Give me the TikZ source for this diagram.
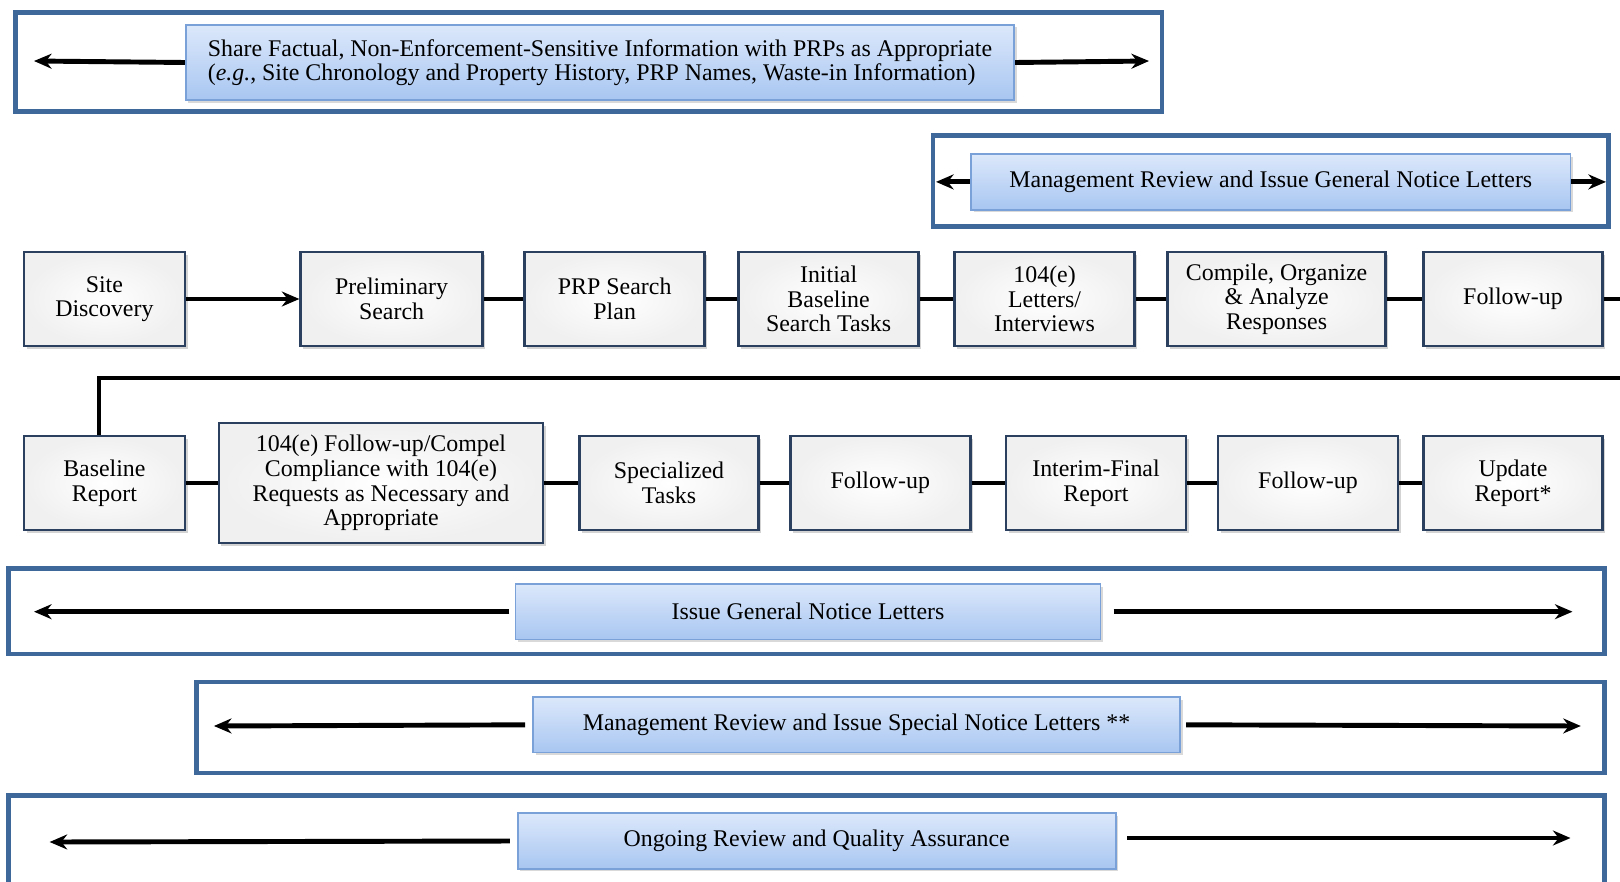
\documentclass[tikz,border=0pt]{standalone}
\usepackage{fontspec}
\setmainfont{Liberation Serif}
\usetikzlibrary{arrows.meta, positioning, shadows}

\definecolor{framecol}{HTML}{3E679A}
\definecolor{boxline}{HTML}{2B3F5E}
\definecolor{bandline}{HTML}{7BA2D8}
\definecolor{bandtop}{HTML}{DCE8FB}
\definecolor{bandbot}{HTML}{A8C6F1}

\begin{document}
\begin{tikzpicture}[x=0.02cm, y=-0.02cm, >={Stealth[length=10pt, width=8.5pt]}, font=\fontsize{13.6}{14}\selectfont]
  \tikzstyle{stepnode}=[draw=boxline, line width=1.4pt, inner color=white, outer color=black!6, align=center, minimum width=3.6cm, minimum height=1.88cm, inner sep=2pt, drop shadow={opacity=0.35, shadow xshift=1.5pt, shadow yshift=-1.5pt}]
  \tikzstyle{bandnode}=[draw=bandline, line width=1pt, top color=bandtop, bottom color=bandbot, align=center, minimum height=1.11cm, drop shadow={opacity=0.3, shadow xshift=1.5pt, shadow yshift=-1.5pt}]
  \tikzstyle{framebox}=[draw=framecol, line width=2.6pt]
  \tikzstyle{link}=[line width=2.8pt]

  \useasboundingbox (0,0) rectangle (1620,882);

  % outer frames
  \draw[framebox] (15.5,12.4) rectangle (1162,111.6);
  \draw[framebox] (933,135.3) rectangle (1608.7,226.3);
  \draw[framebox] (8.3,568.3) rectangle (1604.5,654);
  \draw[framebox] (196.3,682) rectangle (1604.5,772.8);
  \draw[framebox] (8.3,795.6) rectangle (1604.5,900);

  % bands
  \node[bandnode, align=left, minimum width=16.57cm, minimum height=1.51cm] (sh) at (600,62.5)
    {Share Factual, Non-Enforcement-Sensitive Information with PRPs as Appropriate\\
     (\textit{e.g.}, Site Chronology and Property History, PRP Names, Waste-in Information)};
  \node[bandnode, minimum width=11.99cm] (mg) at (1270.8,181.9) {Management Review and Issue General Notice Letters};
  \node[bandnode, minimum width=11.7cm] (gn) at (808,611.7) {Issue General Notice Letters};
  \node[bandnode, minimum width=12.94cm] (sn) at (856.5,724.8) {Management Review and Issue Special Notice Letters **};
  \node[bandnode, minimum width=11.96cm] (oq) at (816.7,841) {Ongoing Review and Quality Assurance};

  \coordinate (shL) at (34,61);
  \coordinate (shR) at (1149,61);
  \coordinate (mgL) at (936,181.9);
  \coordinate (mgR) at (1606,181.9);
  \coordinate (gnL) at (34,611.7);
  \coordinate (gnR) at (1572.5,611.7);
  \coordinate (snL) at (213.9,726);
  \coordinate (snR) at (1580.8,726);
  \coordinate (oqL) at (49.6,842);
  \coordinate (oqR) at (1570.5,838);

  \draw[link,->] (sh.west) -- (shL);
  \draw[link,->] (sh.east) -- (shR);
  \draw[link,->] (mg.west) -- (mgL);
  \draw[link,->] (mg.east) -- (mgR);
  \draw[link,->, shorten <=3pt] (gn.west) -- (gnL);
  \draw[link,->, shorten <=7pt] (gn.east) -- (gnR);
  \draw[link,->, shorten <=4pt] (sn.west) -- (snL);
  \draw[link,->, shorten <=3pt] (sn.east) -- (snR);
  \draw[link,->, shorten <=4pt] (oq.west) -- (oqL);
  \draw[link,->, shorten <=6pt] (oq.east |- oqR) -- (oqR);

  % first row
  \node[stepnode, minimum width=3.22cm] (sd) at (104.4,299) {Site\\Discovery};
  \node[stepnode, minimum width=3.64cm] (ps) at (391.6,299) {Preliminary\\Search};
  \node[stepnode] (pp) at (614.7,299) {PRP Search\\Plan};
  \node[stepnode] (ib) at (828.6,299) {Initial\\Baseline\\Search Tasks};
  \node[stepnode] (le) at (1044.6,299) {104(e)\\Letters/\\Interviews};
  \node[stepnode, minimum width=4.36cm] (co) at (1276.6,299) {Compile, Organize\\\& Analyze\\Responses};
  \node[stepnode, minimum width=3.58cm] (f1) at (1513,299) {Follow-up};

  % second row
  \node[stepnode, minimum width=3.22cm] (br) at (104.4,483) {Baseline\\Report};
  \node[stepnode, minimum width=6.49cm, minimum height=2.4cm] (fc) at (381,483)
    {104(e) Follow-up/Compel\\Compliance with 104(e)\\Requests as Necessary and\\Appropriate};
  \node[stepnode, minimum width=3.58cm] (st) at (669,483) {Specialized\\Tasks};
  \node[stepnode] (f2) at (880.3,483) {Follow-up};
  \node[stepnode] (ir) at (1096,483) {Interim-Final\\Report};
  \node[stepnode] (f3) at (1308,483) {Follow-up};
  \node[stepnode, minimum width=3.58cm] (ur) at (1513,483) {Update\\Report*};

  \draw[link,->] (sd) -- (ps);
  \draw[link] (ps) -- (pp);
  \draw[link] (pp) -- (ib);
  \draw[link] (ib) -- (le);
  \draw[link] (le) -- (co);
  \draw[link] (co) -- (f1);

  \coordinate (turn) at (99,378);
  \draw[link] (f1.east) -- ++(60,0) |- (turn) -- (turn |- br.north);

  \draw[link] (br) -- (fc);
  \draw[link] (fc) -- (st);
  \draw[link] (st) -- (f2);
  \draw[link] (f2) -- (ir);
  \draw[link] (ir) -- (f3);
  \draw[link] (f3) -- (ur);
\end{tikzpicture}
\end{document}
